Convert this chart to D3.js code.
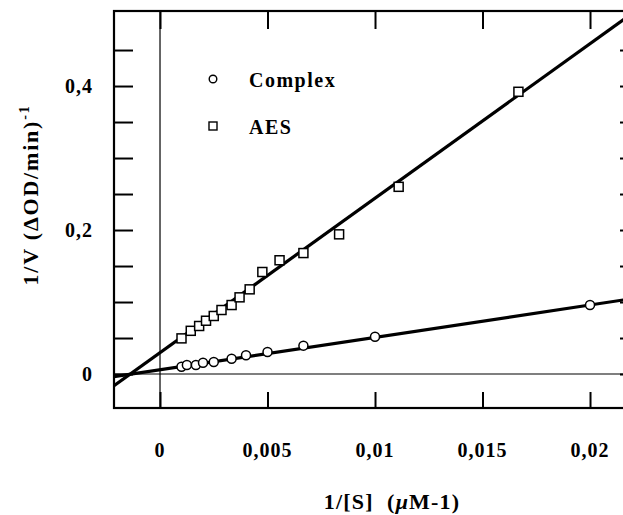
<!DOCTYPE html>
<html>
<head>
<meta charset="utf-8">
<script src="https://cdn.jsdelivr.net/npm/d3@7/dist/d3.min.js"></script>
<style>
  body { margin: 0; background: #fff; }
  svg text { font-family: "Liberation Serif", "Times New Roman", serif; font-weight: bold; fill: #000; }
</style>
</head>
<body>
<div id="chart_container"></div>
<script>
  // 1/[S] values (uM-1)
  const complexX = [0.001, 0.00125, 0.00167, 0.002, 0.0025, 0.00333, 0.004, 0.005, 0.00667, 0.01, 0.02];
  const complexY = [0.010, 0.0125, 0.0125, 0.0157, 0.0167, 0.0213, 0.026, 0.0305, 0.0394, 0.0518, 0.0958];

  const aesX = [0.001, 0.00143, 0.00182, 0.00214, 0.0025, 0.00286, 0.00333, 0.00370, 0.00417, 0.00476, 0.00556, 0.00667, 0.00833, 0.0111, 0.01667];
  const aesY = [0.0495, 0.060, 0.0667, 0.074, 0.0806, 0.0889, 0.0958, 0.1065, 0.1176, 0.1417, 0.158, 0.168, 0.194, 0.260, 0.392];

  // fitted lines
  const complexFit = { slope: 4.5, intercept: 0.0059 };
  const aesFit = { slope: 21.46, intercept: 0.0296 };

  const xTicks = [0, 0.005, 0.01, 0.015, 0.02];
  const xTickLabels = ['0', '0,005', '0,01', '0,015', '0,02'];
  const yTicks = [0, 0.05, 0.1, 0.15, 0.2, 0.25, 0.3, 0.35, 0.4, 0.45];
  const yLabelTicks = [0, 0.2, 0.4];
  const yTickLabels = ['0', '0,2', '0,4'];

  const W = 623, H = 515;
  const mLeft = 114, mTop = 11, mRight = 630, mBottom = 408;

  const svg = d3.select('#chart_container').append('svg')
    .attr('width', W).attr('height', H);

  const xScale = d3.scaleLinear()
    .domain([-0.00214, 0.02186])
    .range([mLeft, mRight]);

  const yScale = d3.scaleLinear()
    .domain([-0.0472, 0.5042])
    .range([mBottom, mTop]);

  svg.append('clipPath').attr('id', 'plotclip')
    .append('rect')
    .attr('x', mLeft).attr('y', mTop)
    .attr('width', mRight - mLeft).attr('height', mBottom - mTop);

  // zero lines
  svg.append('line')
    .attr('x1', mLeft).attr('x2', mRight)
    .attr('y1', yScale(0)).attr('y2', yScale(0))
    .attr('stroke', '#000').attr('stroke-width', 1.2);
  svg.append('line')
    .attr('x1', xScale(0)).attr('x2', xScale(0))
    .attr('y1', mTop).attr('y2', mBottom)
    .attr('stroke', '#000').attr('stroke-width', 1.2);

  // ticks (inside the frame)
  const axisBottom = d3.axisBottom(xScale).tickValues(xTicks).tickSizeInner(-16).tickSizeOuter(0).tickFormat('');
  const axisTop = d3.axisTop(xScale).tickValues(xTicks).tickSizeInner(-18).tickSizeOuter(0).tickFormat('');
  const axisLeft = d3.axisLeft(yScale).tickValues(yTicks).tickSizeInner(-19).tickSizeOuter(0).tickFormat('');
  const axisRight = d3.axisRight(yScale).tickValues(yTicks).tickSizeOuter(0).tickFormat('')
    .tickSizeInner(-10);

  svg.append('g').attr('transform', `translate(0, ${mBottom})`).call(axisBottom);
  svg.append('g').attr('transform', `translate(0, ${mTop})`).call(axisTop);
  svg.append('g').attr('transform', `translate(${mLeft}, 0)`).call(axisLeft);
  svg.append('g').attr('transform', `translate(${mRight}, 0)`).call(axisRight);
  svg.selectAll('.domain').remove();
  svg.selectAll('.tick line').attr('stroke', '#000').attr('stroke-width', 2);

  // frame
  svg.append('rect')
    .attr('x', mLeft).attr('y', mTop)
    .attr('width', mRight - mLeft).attr('height', mBottom - mTop)
    .attr('fill', 'none').attr('stroke', '#000').attr('stroke-width', 2.2);

  // fitted lines
  const line = d3.line()
    .x(d => xScale(d[0]))
    .y(d => yScale(d[1]));

  const xs = xScale.domain();
  [complexFit, aesFit].forEach(f => {
    svg.append('path')
      .attr('clip-path', 'url(#plotclip)')
      .attr('d', line(xs.map(x => [x, f.intercept + f.slope * x])))
      .attr('fill', 'none')
      .attr('stroke', '#000')
      .attr('stroke-width', 3.2);
  });

  // points
  svg.append('g').selectAll('circle')
    .data(complexX.map((x, i) => [x, complexY[i]]))
    .enter().append('circle')
    .attr('cx', d => xScale(d[0]))
    .attr('cy', d => yScale(d[1]))
    .attr('r', 4.5)
    .attr('fill', '#fff').attr('stroke', '#000').attr('stroke-width', 1.5);

  const sq = 9;
  svg.append('g').selectAll('rect')
    .data(aesX.map((x, i) => [x, aesY[i]]))
    .enter().append('rect')
    .attr('x', d => xScale(d[0]) - sq / 2)
    .attr('y', d => yScale(d[1]) - sq / 2)
    .attr('width', sq).attr('height', sq)
    .attr('fill', '#fff').attr('stroke', '#000').attr('stroke-width', 1.5);

  // tick labels
  svg.append('g').selectAll('text')
    .data(xTicks)
    .enter().append('text')
    .attr('x', d => xScale(d))
    .attr('y', 457)
    .attr('text-anchor', 'middle')
    .style('font-size', '20px')
    .style('letter-spacing', '1px')
    .text((d, i) => xTickLabels[i]);

  svg.append('g').selectAll('text')
    .data(yLabelTicks)
    .enter().append('text')
    .attr('x', 93)
    .attr('y', d => yScale(d) + 7)
    .attr('text-anchor', 'end')
    .style('font-size', '20px')
    .style('letter-spacing', '1px')
    .text((d, i) => yTickLabels[i]);

  // legend
  svg.append('circle').attr('cx', 213).attr('cy', 79).attr('r', 3.8)
    .attr('fill', '#fff').attr('stroke', '#000').attr('stroke-width', 1.4);
  svg.append('rect').attr('x', 209).attr('y', 122).attr('width', 8).attr('height', 8)
    .attr('fill', '#fff').attr('stroke', '#000').attr('stroke-width', 1.4);
  svg.append('text').attr('x', 249).attr('y', 87)
    .style('font-size', '20px').style('letter-spacing', '1.5px')
    .text('Complex');
  svg.append('text').attr('x', 249).attr('y', 134)
    .style('font-size', '20px').style('letter-spacing', '1.5px')
    .text('AES');

  // axis titles
  svg.append('text')
    .attr('x', 392).attr('y', 509)
    .attr('text-anchor', 'middle')
    .style('font-size', '22px')
    .style('letter-spacing', '1.2px')
    .style('white-space', 'pre')
    .html('1/[S]  (<tspan font-style="italic">μ</tspan>M-1)');

  svg.append('text')
    .attr('transform', 'translate(38, 195) rotate(-90)')
    .attr('text-anchor', 'middle')
    .style('font-size', '22px')
    .style('letter-spacing', '1.8px')
    .html('1/V (ΔOD/min)<tspan dy="-9" font-size="14px">-1</tspan>');
</script>
</body>
</html>
